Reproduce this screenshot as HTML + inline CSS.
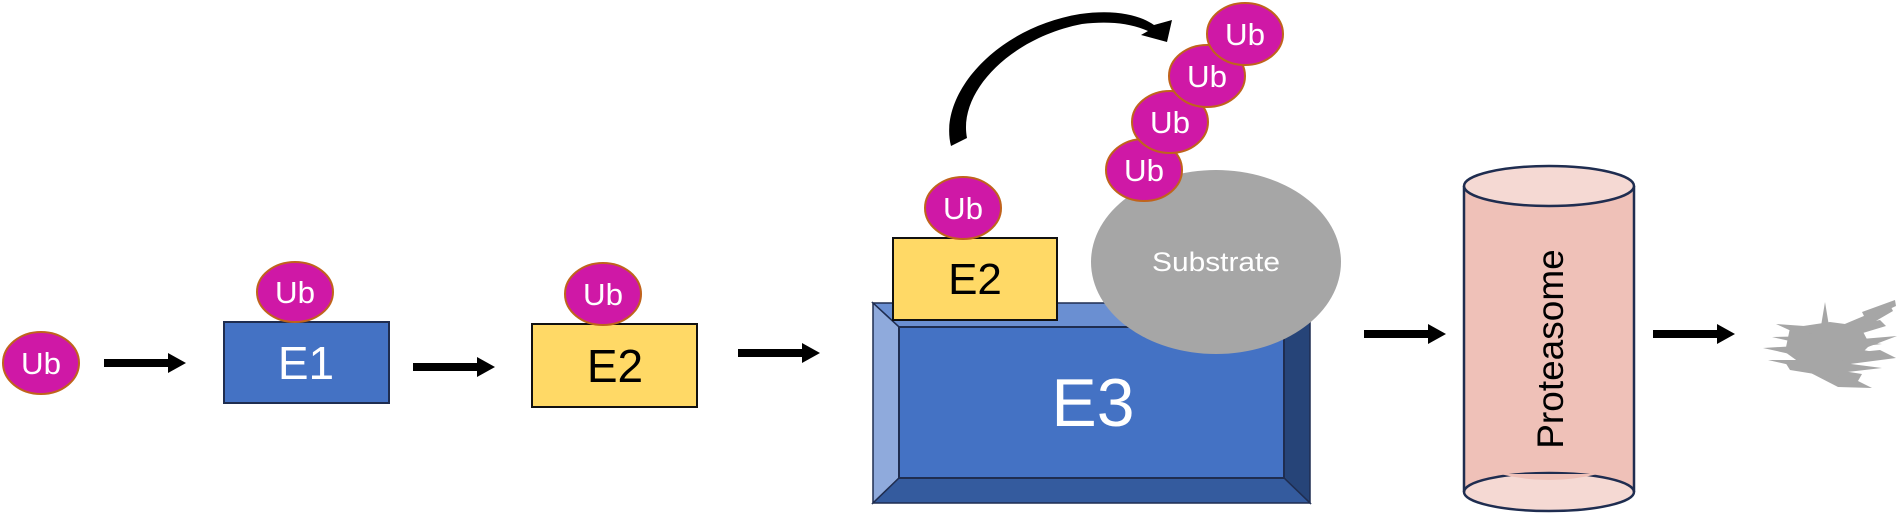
<!DOCTYPE html>
<html><head><meta charset="utf-8"><style>
html,body{margin:0;padding:0;background:#fff;}
svg{display:block;}
text{font-family:"Liberation Sans",Arial,sans-serif;}
</style></head><body>
<svg width="1900" height="514" viewBox="0 0 1900 514" xmlns="http://www.w3.org/2000/svg">
<defs>
<g id="arr"><rect x="0" y="-4" width="66" height="8" fill="#000"/><polygon points="64,-10 82,0 64,10" fill="#000"/></g>
</defs>
<ellipse cx="41" cy="363" rx="38" ry="31" fill="#cf18a6" stroke="#c0631c" stroke-width="2"/>
<text x="41" y="374" font-size="31" fill="#fff" text-anchor="middle" textLength="40" lengthAdjust="spacingAndGlyphs">Ub</text>
<use href="#arr" x="104" y="363"/>
<rect x="224" y="322" width="165" height="81" fill="#4472c4" stroke="#1f2d50" stroke-width="2"/>
<text x="306" y="379" font-size="46" fill="#fff" text-anchor="middle">E1</text>
<ellipse cx="295" cy="292" rx="38" ry="30" fill="#cf18a6" stroke="#c0631c" stroke-width="2"/>
<text x="295" y="303" font-size="31" fill="#fff" text-anchor="middle" textLength="40" lengthAdjust="spacingAndGlyphs">Ub</text>
<use href="#arr" x="413" y="367"/>
<rect x="532" y="324" width="165" height="83" fill="#ffd966" stroke="#111" stroke-width="2"/>
<text x="615" y="382" font-size="46" fill="#000" text-anchor="middle">E2</text>
<ellipse cx="603" cy="294" rx="38" ry="31" fill="#cf18a6" stroke="#c0631c" stroke-width="2"/>
<text x="603" y="305" font-size="31" fill="#fff" text-anchor="middle" textLength="40" lengthAdjust="spacingAndGlyphs">Ub</text>
<use href="#arr" x="738" y="353"/>
<polygon points="873,303 1310,303 1284,327 899,327" fill="#6a8fd2" stroke="#1f2d50" stroke-width="1.5"/>
<polygon points="873,303 899,327 899,478 873,503" fill="#8faadc" stroke="#1f2d50" stroke-width="1.5"/>
<polygon points="1310,303 1310,503 1284,478 1284,327" fill="#264478" stroke="#1f2d50" stroke-width="1.5"/>
<polygon points="873,503 899,478 1284,478 1310,503" fill="#345b9e" stroke="#1f2d50" stroke-width="1.5"/>
<rect x="899" y="327" width="385" height="151" fill="#4472c4" stroke="#1f2d50" stroke-width="2"/>
<text x="1093" y="426" font-size="68" fill="#fff" text-anchor="middle">E3</text>
<rect x="893" y="238" width="164" height="82" fill="#ffd966" stroke="#111" stroke-width="2"/>
<text x="975" y="294" font-size="44" fill="#000" text-anchor="middle">E2</text>
<ellipse cx="963" cy="208" rx="38" ry="31" fill="#cf18a6" stroke="#c0631c" stroke-width="2"/>
<text x="963" y="219" font-size="31" fill="#fff" text-anchor="middle" textLength="40" lengthAdjust="spacingAndGlyphs">Ub</text>
<ellipse cx="1216" cy="262" rx="125" ry="92" fill="#a6a6a6"/>
<text x="1216" y="271" font-size="27" fill="#fff" text-anchor="middle" textLength="128" lengthAdjust="spacingAndGlyphs">Substrate</text>
<ellipse cx="1144" cy="170" rx="38" ry="31" fill="#cf18a6" stroke="#c0631c" stroke-width="2"/>
<text x="1144" y="181" font-size="31" fill="#fff" text-anchor="middle" textLength="40" lengthAdjust="spacingAndGlyphs">Ub</text>
<ellipse cx="1170" cy="122" rx="38" ry="31" fill="#cf18a6" stroke="#c0631c" stroke-width="2"/>
<text x="1170" y="133" font-size="31" fill="#fff" text-anchor="middle" textLength="40" lengthAdjust="spacingAndGlyphs">Ub</text>
<ellipse cx="1207" cy="76" rx="38" ry="31" fill="#cf18a6" stroke="#c0631c" stroke-width="2"/>
<text x="1207" y="87" font-size="31" fill="#fff" text-anchor="middle" textLength="40" lengthAdjust="spacingAndGlyphs">Ub</text>
<ellipse cx="1245" cy="34" rx="38" ry="31" fill="#cf18a6" stroke="#c0631c" stroke-width="2"/>
<text x="1245" y="45" font-size="31" fill="#fff" text-anchor="middle" textLength="40" lengthAdjust="spacingAndGlyphs">Ub</text>
<path d="M951,146 C938,95 995,28 1080,14 C1115,9 1140,15 1154,25 L1172,20 L1167,42 L1141,35 L1148,31 C1130,23 1108,21 1082,24 C1010,38 958,92 967,138 Z" fill="#000"/>
<use href="#arr" x="1364" y="334"/>
<rect x="1464" y="186" width="170" height="306" fill="#efc1b8"/>
<ellipse cx="1549" cy="492" rx="85" ry="19" fill="#f5d9d3" stroke="#1f2d50" stroke-width="2.5"/>
<path d="M1500,474 Q1549,486 1598,474 Z" fill="#efc1b8"/>
<line x1="1464" y1="186" x2="1464" y2="492" stroke="#1f2d50" stroke-width="2.5"/>
<line x1="1634" y1="186" x2="1634" y2="492" stroke="#1f2d50" stroke-width="2.5"/>
<ellipse cx="1549" cy="186" rx="85" ry="20" fill="#f5d9d3" stroke="#1f2d50" stroke-width="2.5"/>
<text transform="translate(1563,349) rotate(-90)" font-size="37" fill="#000" text-anchor="middle">Proteasome</text>
<use href="#arr" x="1653" y="334"/>
<g fill="#a6a6a6">
<polygon points="1790,328 1830,322 1860,326 1870,345 1850,365 1810,370 1785,352"/>
<polygon points="1825,302 1830,332 1820,332"/>
<polygon points="1790,332 1840,326 1890,305 1893,311 1850,336"/>
<polygon points="1800,336 1880,320 1886,326 1820,346"/>
<polygon points="1763,348 1830,344 1885,354 1840,360 1790,354"/>
<polygon points="1772,337 1815,336 1882,344 1830,350"/>
<polygon points="1768,360 1820,360 1882,368 1830,374"/>
<polygon points="1785,362 1862,374 1858,381 1790,370"/>
<polygon points="1805,370 1856,380 1872,388 1838,387"/>
<polygon points="1776,324 1832,328 1800,335"/>
<polygon points="1790,340 1850,340 1897,336 1860,350"/>
<polygon points="1862,312 1895,300 1896,306 1866,320"/>
<polygon points="1830,355 1880,350 1896,358 1850,364"/>
</g>
</svg>
</body></html>
